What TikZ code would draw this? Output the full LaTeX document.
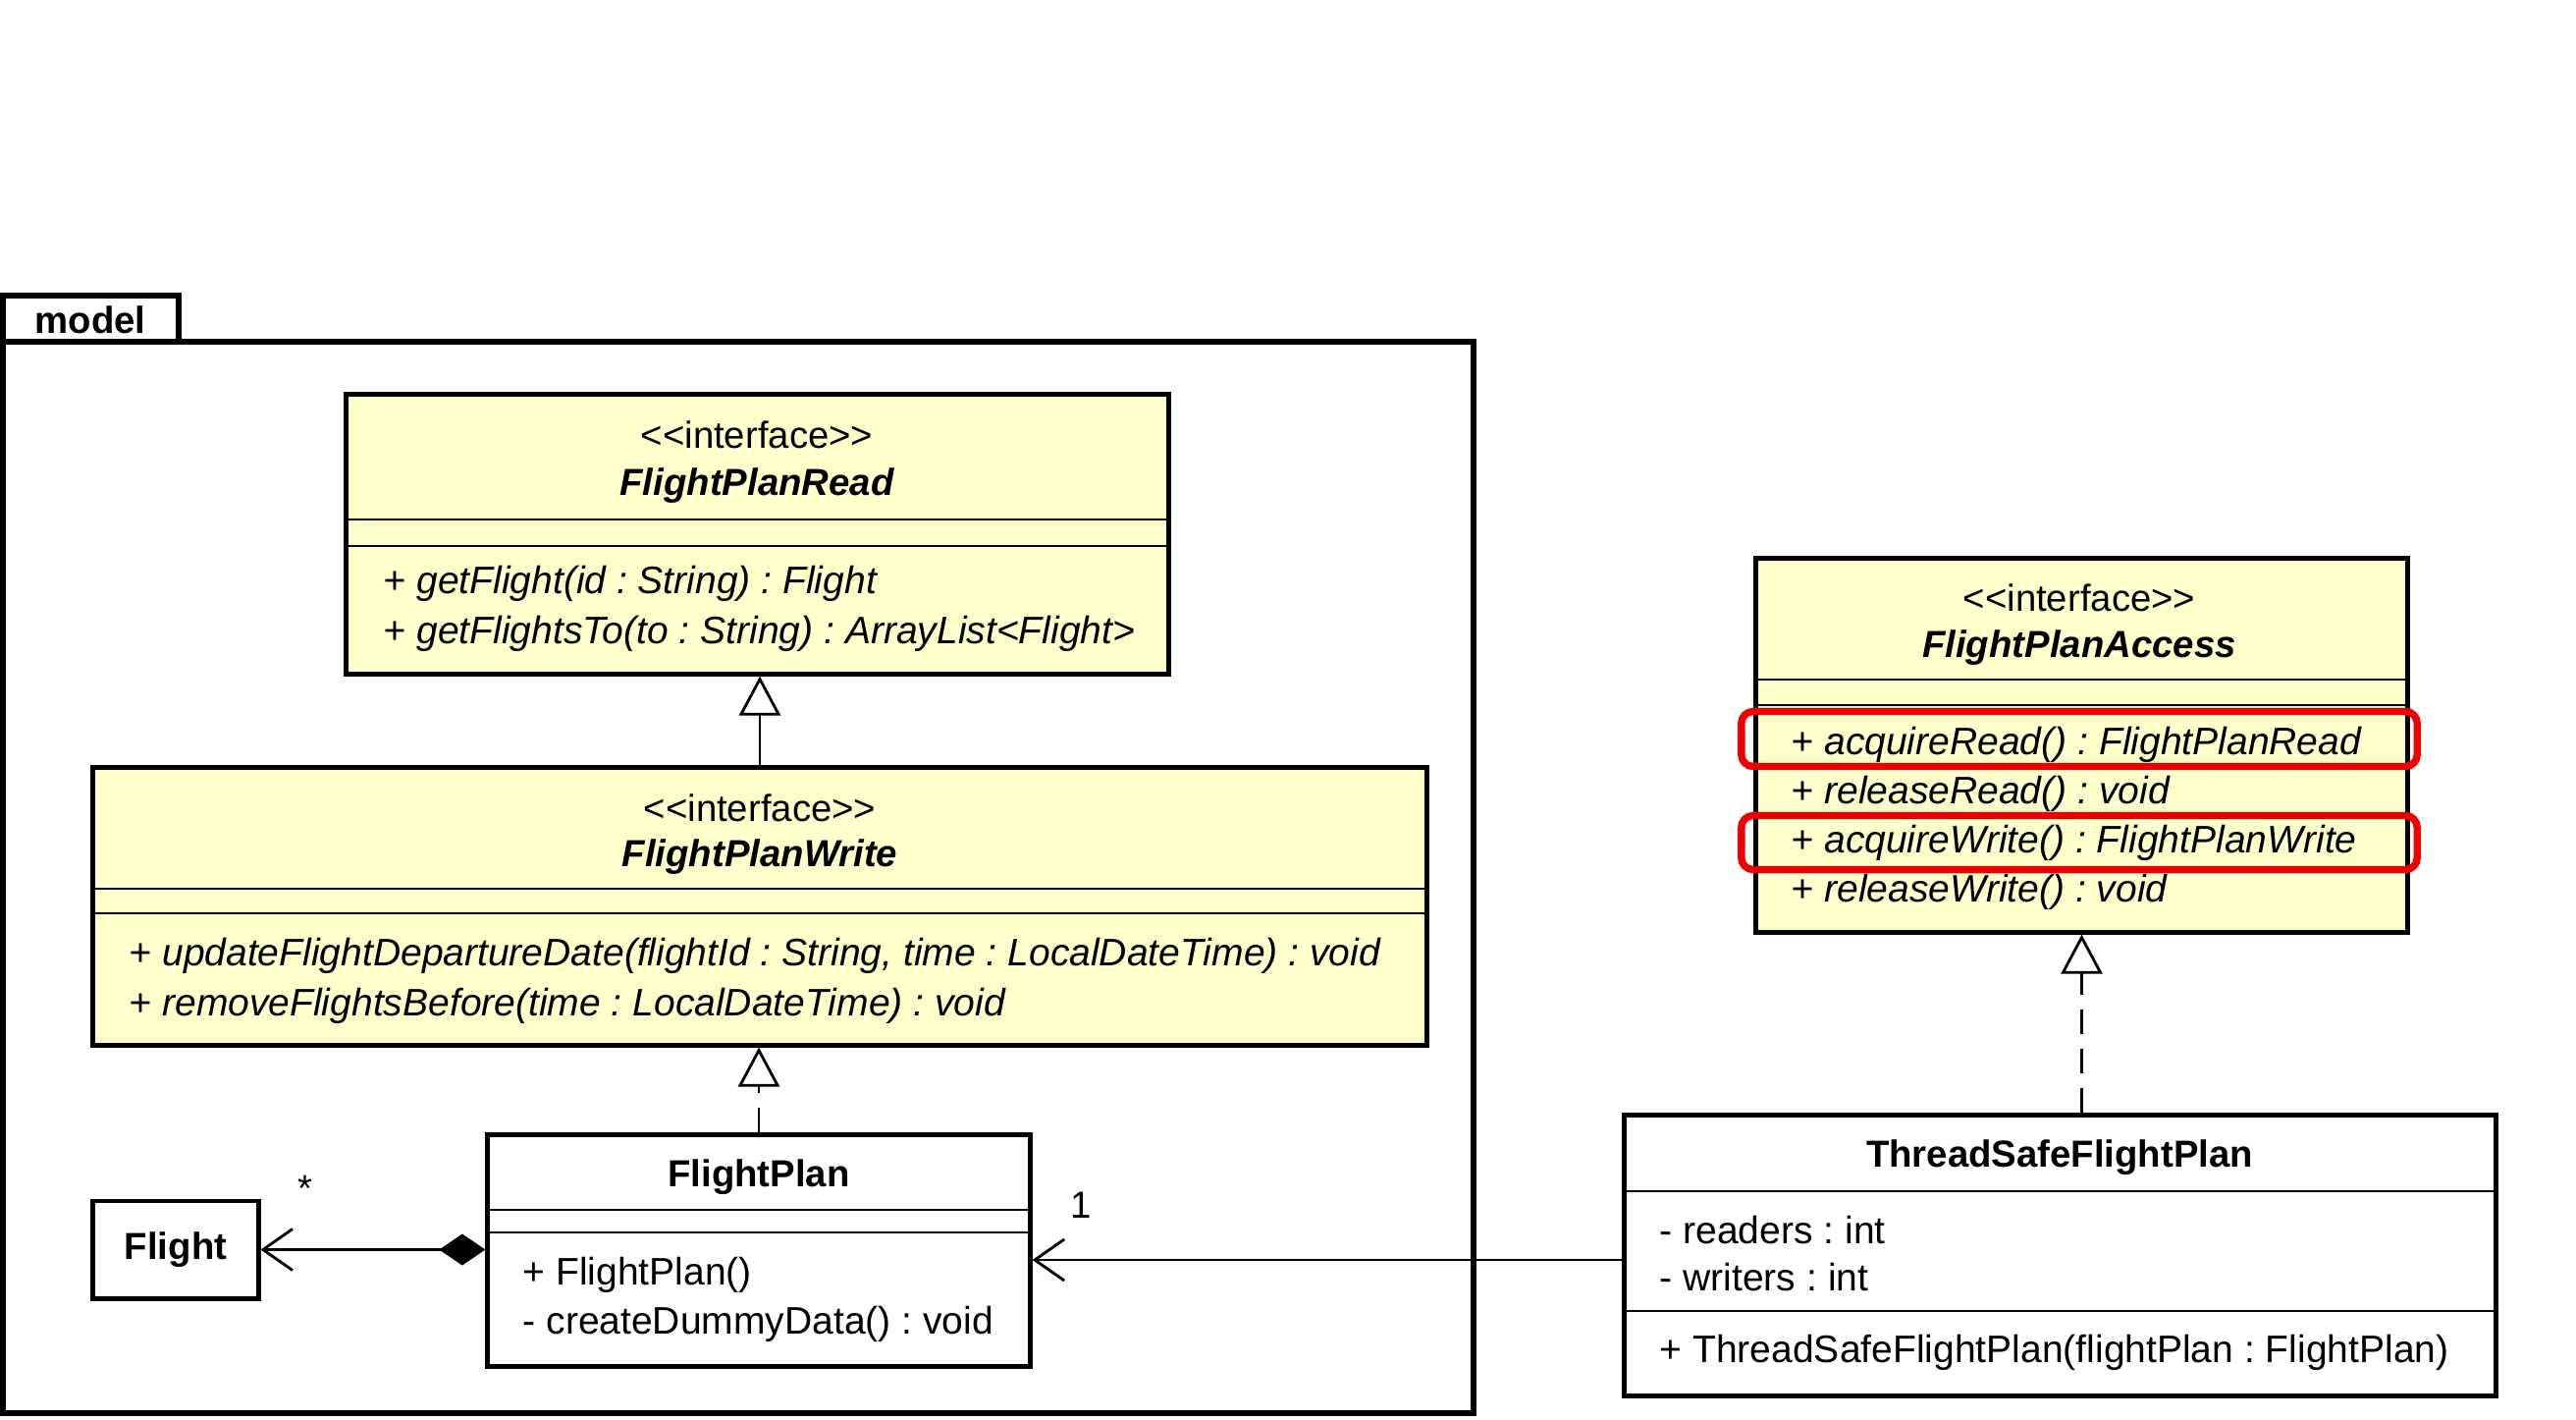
\documentclass[tikz,border=0pt]{standalone}
\usepackage{fontspec}
\setmainfont{Liberation Sans}
\usepackage{xcolor}
\usetikzlibrary{arrows.meta, positioning}

\definecolor{ifacefill}{HTML}{FFFFCC}
\definecolor{hired}{HTML}{EE0000}
\frenchspacing

\tikzset{
    umltext/.style={font=\fontsize{10.9}{13}\selectfont},
    membertext/.style={font=\fontsize{11.1}{13}\selectfont},
    box/.style={draw, line width=1.4pt, inner sep=0pt},
    iface/.style={box, fill=ifacefill},
    klass/.style={box, fill=white},
    sep/.style={line width=0.8pt},
    member/.style={anchor=west, inner sep=0pt, membertext},
    title/.style={inner sep=0pt, umltext},
    gen/.style={line width=0.8pt, -{Triangle[open, length=0.4cm, width=0.42cm]}},
    real/.style={gen, dash pattern=on 0.25cm off 0.15cm},
    hilite/.style={draw=hired, line width=2.1pt, rounded corners=0.12cm, inner sep=0pt}
}
\newcommand{\stereo}{<\kern0pt<interface>\kern0pt>}

\begin{document}
\begin{tikzpicture}[x=0.01cm, y=-0.01cm]
    \useasboundingbox (0,0) rectangle (2624,1445);

    % Draw package model
    \draw[line width=1.5pt] (3,348) rectangle (182,301);
    \draw[line width=1.5pt] (3,348) rectangle (1501,1439);
    \node[title] (pkgname) at (92,326) {\bfseries model};

    % Draw interface FlightPlanRead
    \node[iface, minimum width=8.37cm, minimum height=2.84cm] (fpread) at (771.5,544) {};
    \node[title] (fpreadst) at (771,443) {\stereo};
    \node[title] (fpreadname) at (771,495) {\bfseries\itshape FlightPlanRead};
    \draw[sep] (fpread.west |- 0,529) -- (fpread.east |- 0,529);
    \draw[sep] (fpread.west |- 0,556) -- (fpread.east |- 0,556);
    \node[member] (fpreadm1) at (390,594) {\itshape + getFlight(id : String) : Flight};
    \node[member] (fpreadm2) at (390,645) {\itshape + getFlightsTo(to : String) : ArrayList<Flight>};

    % Draw interface FlightPlanWrite
    \node[iface, minimum width=13.58cm, minimum height=2.82cm] (fpwrite) at (774,923) {};
    \node[title] (fpwritest) at (774,823) {\stereo};
    \node[title] (fpwritename) at (774,873) {\bfseries\itshape FlightPlanWrite};
    \draw[sep] (fpwrite.west |- 0,905) -- (fpwrite.east |- 0,905);
    \draw[sep] (fpwrite.west |- 0,930) -- (fpwrite.east |- 0,930);
    \node[member] (fpwritem1) at (131,973) {\itshape + updateFlightDepartureDate(flightId : String, time : LocalDateTime) : void};
    \node[member] (fpwritem2) at (131,1024) {\itshape + removeFlightsBefore(time : LocalDateTime) : void};

    % Draw class FlightPlan
    \node[klass, minimum width=5.52cm, minimum height=2.35cm] (fplan) at (773,1273.5) {};
    \node[title] (fplanname) at (773,1199) {\bfseries FlightPlan};
    \draw[sep] (fplan.west |- 0,1232) -- (fplan.east |- 0,1232);
    \draw[sep] (fplan.west |- 0,1255) -- (fplan.east |- 0,1255);
    \node[member] (fplanm1) at (532,1298) {+ FlightPlan()};
    \node[member] (fplanm2) at (532,1348) {- createDummyData() : void};

    % Draw class Flight
    \node[klass, minimum width=1.68cm, minimum height=0.99cm, umltext] (flight) at (179,1272.5) {\bfseries Flight};

    % Draw interface FlightPlanAccess
    \node[iface, minimum width=6.63cm, minimum height=3.8cm] (fpaccess) at (2120.5,759) {};
    \node[title] (fpaccessst) at (2118,609) {\stereo};
    \node[title] (fpaccessname) at (2118,660) {\bfseries\itshape FlightPlanAccess};
    \draw[sep] (fpaccess.west |- 0,692) -- (fpaccess.east |- 0,692);
    \draw[sep] (fpaccess.west |- 0,718) -- (fpaccess.east |- 0,718);
    \node[member] (fpaccessm1) at (1824,758) {\itshape + acquireRead() : FlightPlanRead};
    \node[member] (fpaccessm2) at (1824,808) {\itshape + releaseRead() : void};
    \node[member] (fpaccessm3) at (1824,858) {\itshape + acquireWrite() : FlightPlanWrite};
    \node[member] (fpaccessm4) at (1824,908) {\itshape + releaseWrite() : void};

    % Highlight acquire methods (red)
    \node[hilite, minimum width=6.88cm, minimum height=0.56cm] (hlread) at (2118,752.5) {};
    \node[hilite, minimum width=6.88cm, minimum height=0.55cm] (hlwrite) at (2118,858) {};

    % Draw class ThreadSafeFlightPlan
    \node[klass, minimum width=8.87cm, minimum height=2.85cm] (tsfp) at (2098.5,1278.5) {};
    \node[title] (tsfpname) at (2098,1179) {\bfseries ThreadSafeFlightPlan};
    \draw[sep] (tsfp.west |- 0,1213) -- (tsfp.east |- 0,1213);
    \node[member] (tsfpa1) at (1690,1253) {- readers : int};
    \node[member] (tsfpa2) at (1690,1301) {- writers : int};
    \draw[sep] (tsfp.west |- 0,1335) -- (tsfp.east |- 0,1335);
    \node[member] (tsfpm1) at (1690,1377) {+ ThreadSafeFlightPlan(flightPlan : FlightPlan)};

    % Relations
    \draw[gen] (fpwrite.north) -- (fpwrite.north |- fpread.south);
    \draw[real] (fplan.north) -- (fplan.north |- fpwrite.south);
    \draw[real] (fpaccess.south |- tsfp.north) -- (fpaccess.south);
    \draw[line width=0.8pt, {Diamond[length=0.47cm, width=0.32cm]}-{Straight Barb[length=0.3cm, width=0.42cm]}]
        (fplan.west |- flight.east) -- (flight.east);
    \coordinate (assocy) at (0,1283);
    \draw[line width=0.8pt, -{Straight Barb[length=0.3cm, width=0.42cm]}]
        (tsfp.west |- assocy) -- (fplan.east |- assocy);

    % Multiplicities
    \node[title] (multflight) at (311,1210) {*};
    \node[title] (multplan) at (1101,1227) {1};
\end{tikzpicture}
\end{document}
